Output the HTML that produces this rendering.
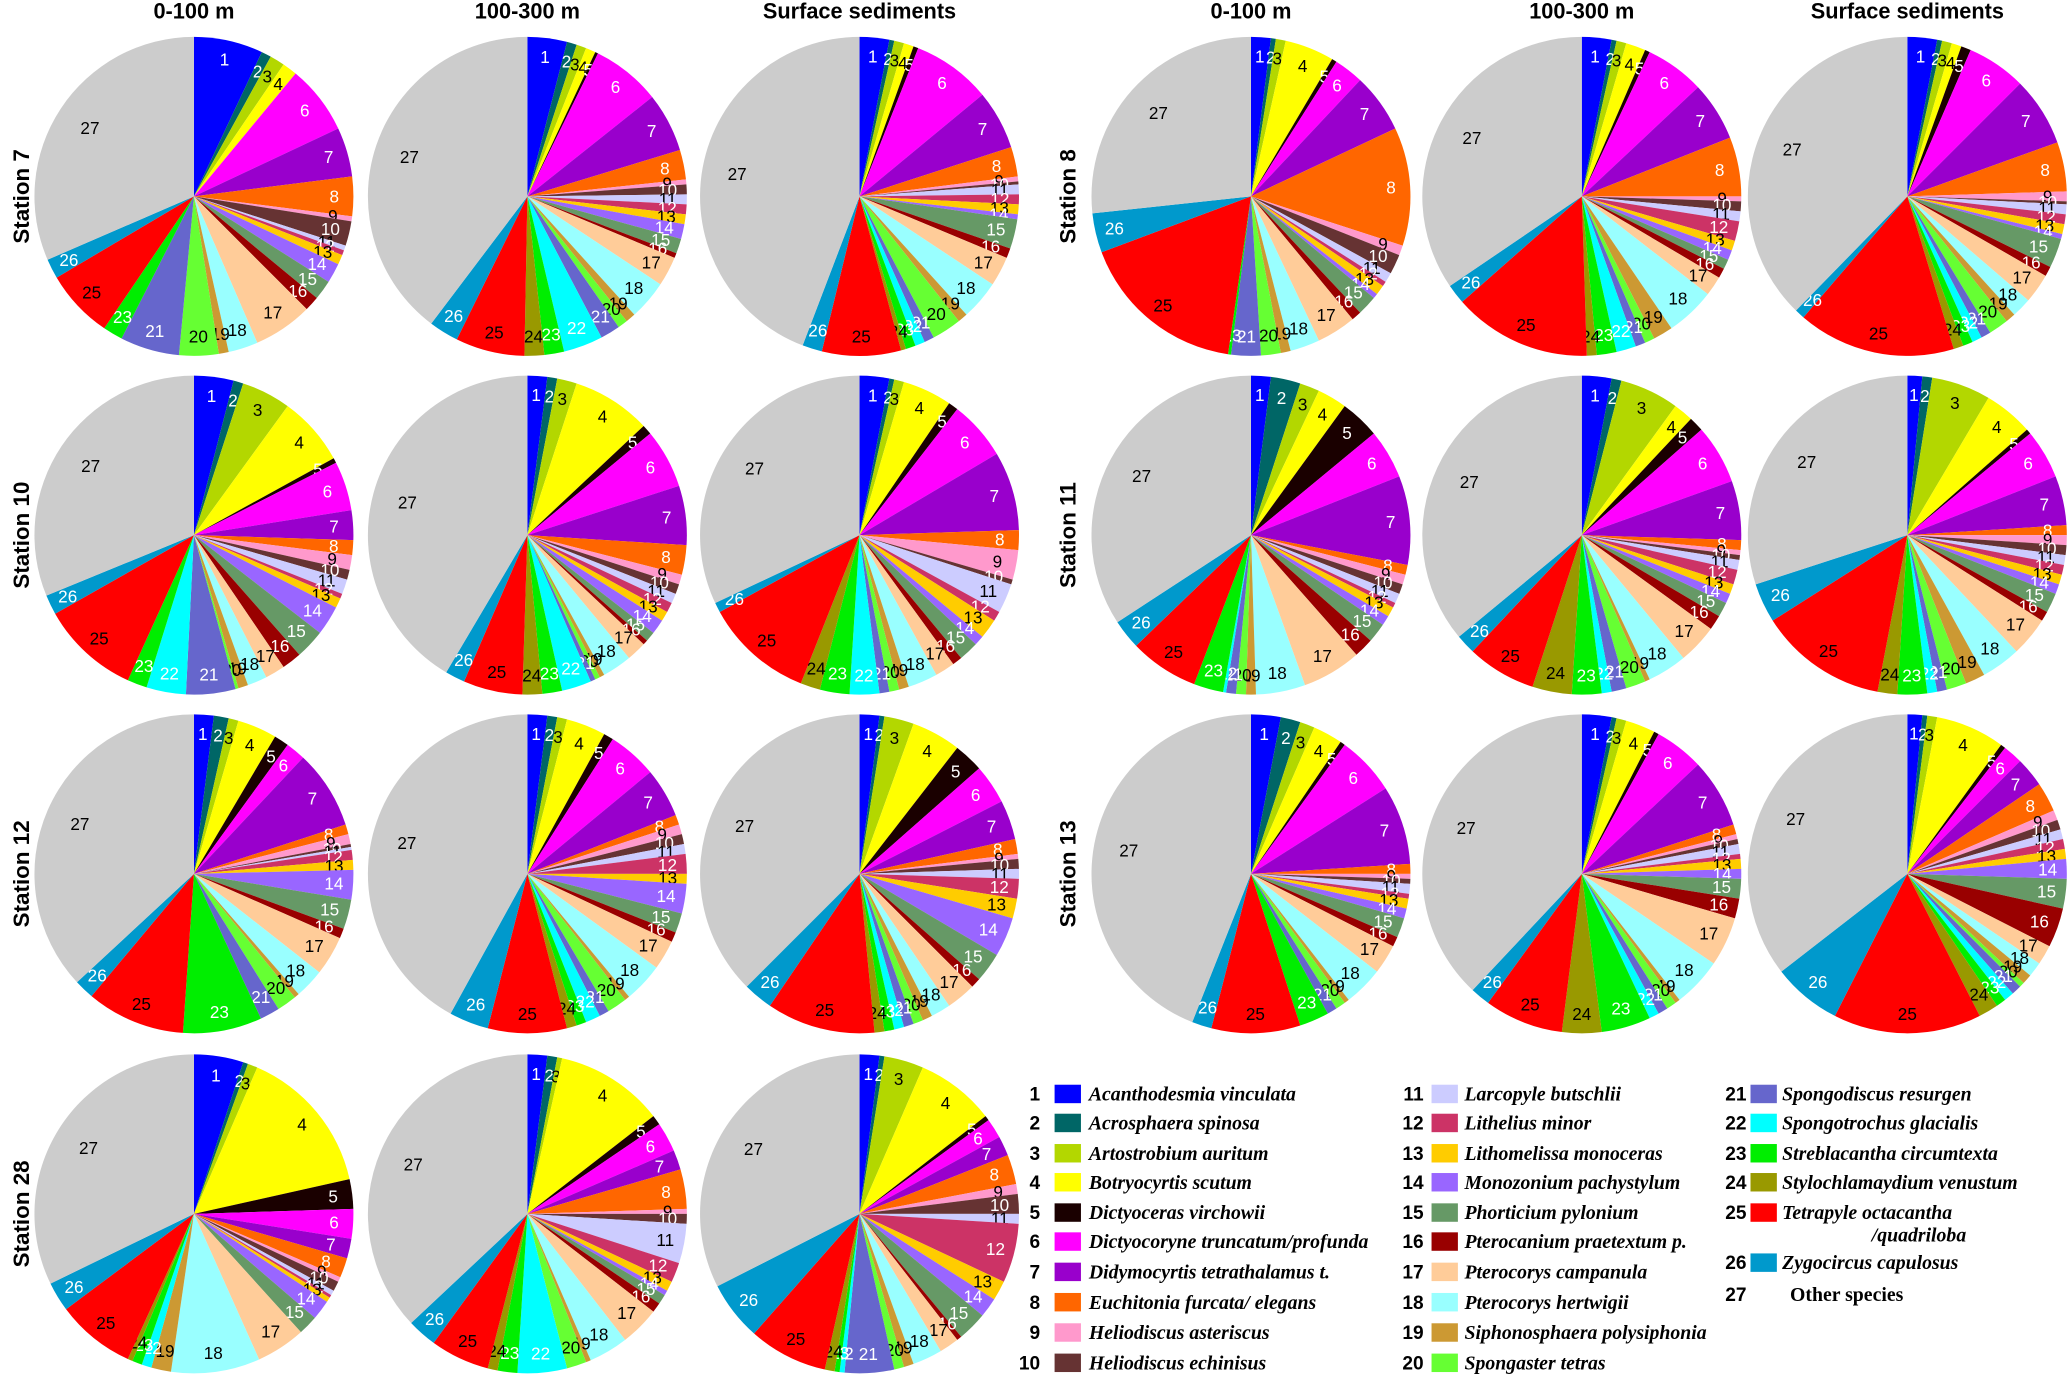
<!DOCTYPE html>
<html><head><meta charset="utf-8">
<style>
html,body{margin:0;padding:0;background:#fff;}
svg{display:block;}
.hdr{font-family:"Liberation Sans",sans-serif;font-weight:bold;font-size:16.5px;text-anchor:middle;}
.st{font-family:"Liberation Sans",sans-serif;font-weight:bold;font-size:17px;text-anchor:middle;}
.lbl{font-family:"Liberation Sans",sans-serif;font-size:13px;text-anchor:middle;dominant-baseline:central;}
.lnum{font-family:"Liberation Sans",sans-serif;font-size:14.5px;font-weight:bold;}
.ltxt{font-family:"Liberation Serif",serif;font-style:italic;font-weight:bold;font-size:15px;}
</style></head>
<body>
<svg id="chart" width="2067" height="1376" viewBox="0 0 1568 1044" xmlns="http://www.w3.org/2000/svg"></svg>
<script>
const speciesNames = ["Acanthodesmia vinculata","Acrosphaera spinosa","Artostrobium auritum","Botryocyrtis scutum","Dictyoceras virchowii","Dictyocoryne truncatum/profunda","Didymocyrtis  tetrathalamus t.","Euchitonia furcata/ elegans","Heliodiscus asteriscus","Heliodiscus echinisus","Larcopyle butschlii","Lithelius minor","Lithomelissa monoceras","Monozonium pachystylum","Phorticium pylonium","Pterocanium praetextum p.","Pterocorys campanula","Pterocorys hertwigii","Siphonosphaera polysiphonia","Spongaster tetras","Spongodiscus resurgen","Spongotrochus glacialis","Streblacantha circumtexta","Stylochlamaydium venustum","Tetrapyle octacantha","Zygocircus capulosus","Other species"];
const colors = ["#0000ff","#006666","#b3d700","#ffff00","#1a0000","#ff00ff","#9900cc","#ff6600","#ff99cc","#663333","#ccccff","#cc3366","#ffcc00","#9966ff","#669966","#990000","#ffcc99","#99ffff","#cc9933","#66ff33","#6666cc","#00ffff","#00ee00","#999900","#ff0000","#0099cc","#cccccc"];
const whiteLabels = [1,2,5,6,7,8,10,12,14,15,16,21,22,23,26];
const depths = ["0-100 m","100-300 m","Surface sediments"];
const s7a=[7,1,1.5,1.5,0,7,5,4,0.5,2.5,0.5,0.5,1,2,2,1.5,6,3,1,4,6,0,2,0,7,2,31.5];
const s7b=[4,1,1,1,0.3,7,6,3,0.5,1,1,1,1,1.5,1.5,0.5,3,4,1,1,2,4,2,2,7,3,39.7];
const s7c=[3,0.5,1,1,0.5,8,6,3,0.5,0.3,1,1,1,0.5,3,1,3,4,1,3,1,1,1,0.5,8,2,44.2];
const s10a=[4,1,5,7,0.5,5,3,1.5,1.5,1,1.5,0.5,1,3,3,2,2,2,1,0.3,5,4,2,0,10,2,31.2];
const s10b=[2,1,2,8,1,6,6,3,1,1,1,1,1,1.5,1,0.5,2,3,0.5,0.5,0.5,3,2,2,6,2,41.5];
const s10c=[3,0.5,1,5,1,6,8,2,3,0.5,3,1,2,1,2,1,2,3,1,1,1,3,3,2,11,1,32];
const s12a=[2,1.5,1,4,1.5,2,8,1,1,0.3,0.3,1,1,3,3,1,4,3,0.5,2,2,0,8,0,10,2,36.9];
const s12b=[2,1,1,4,1,5,5,1,1,1,1,2,1,3,2,1,3,4,0.5,2,1,1.5,1,1,8,4,42];
const s12c=[2,0.5,3,5,3,4,4,1.5,0.5,1,1,2,2,4,3,1,3,2,1,1,1,1,1,1,11,3,37.5];
const s28a=[5,0.5,1,15,3,3,2,2,0.5,1,0.5,0.3,0.5,2,2,0,5,9,2,0,0,1,1,0.5,8,3,32.2];
const s28b=[2,1,0.5,11,1,3,2,4,0.5,1,4,2,1,0.5,1,1,4,4,0.5,2,0,5,2,1,6,3,37];
const s28c=[2,0.5,4,8,0.5,2,2,3,1,2,1,6,2,2,3,0.5,2,3,1,1,5,0.5,0.5,1,8,6,32.5];
const s8a=[2,0.5,1,5,0.5,3,6,12,1,2,1,0.5,1,0.5,2,1,4,3,1,2,3,0,0.3,0,17,4,26.7];
const s8b=[3,0.5,1,2,0.5,6,6,6,0.5,1,1,2,1,1,1,1,2,5,2,1,1,2,2,1,14,2,34.5];
const s8c=[3,0.5,1,1,1,6,7,5,1,0.3,1,1,1,0.5,3,1,3,2,1,2,1,1,1,1,16,1,37.7];
const s11a=[2,3,2,3,4,5,9,1,1,1,1,0.5,1,1,2,2,6,5,1,1,1,0.3,3,0,7,3,34.2];
const s11b=[3,1,6,2,1.5,6,6,1,0.5,0.5,1,1.5,1,1,1.5,1.5,4,4,0.5,2,1.5,1,3,4,7,2,36];
const s11c=[1.5,1,6,5,0.5,5,5,1,1,1,1,1,1,1,2,1,4,4,2,2,1,1,3,2,13,4,30];
const s13a=[3,2,1.5,3,0.5,6,8,1,0.5,0.5,1,0.5,1,1,2,1,3,4,0.5,1,1,0,3,0,9,2,44];
const s13b=[3,0.5,1,3,0.5,5,7,1,0.5,0.5,1,0.5,1,1,2,2,5,5,0.5,1,1,1,5,4,8,2,38];
const s13c=[1.5,0.5,1,7,0.5,2,3,3,1,1,1,1,1,2,3,4,2,1.5,1,0.5,1,1,1,2,15,7,35.5];

const pies=[
 {id:"station-7",d:[s7a,s7b,s7c],g:0,r:0},{id:"station-10",d:[s10a,s10b,s10c],g:0,r:1},
 {id:"station-12",d:[s12a,s12b,s12c],g:0,r:2},{id:"station-28",d:[s28a,s28b,s28c],g:0,r:3},
 {id:"station-8",d:[s8a,s8b,s8c],g:1,r:0},{id:"station-11",d:[s11a,s11b,s11c],g:1,r:1},
 {id:"station-13",d:[s13a,s13b,s13c],g:1,r:2}];
const NS="http://www.w3.org/2000/svg";
const svg=document.getElementById('chart');
function mk(tag,attrs,parent){const e=document.createElementNS(NS,tag);for(const k in attrs)e.setAttribute(k,attrs[k]);(parent||svg).appendChild(e);return e;}
const colX=[[147,400,652],[949,1200,1447]];
const rowY=[149,406,663,921];
const R=121;
for(let g=0;g<2;g++)for(let c=0;c<3;c++){
  const t=mk('text',{class:'hdr',x:colX[g][c],y:14});
  
  
  t.textContent=depths[c];
}
const stMap={"station-7":"Station 7","station-10":"Station 10","station-12":"Station 12","station-28":"Station 28","station-8":"Station 8","station-11":"Station 11","station-13":"Station 13"};
function pt(cx,cy,r,a){return [cx+r*Math.sin(a),cy-r*Math.cos(a)];}
pies.forEach(p=>{
  const cy=rowY[p.r];
  const sx=p.g===0?16:810;
  const st=mk('text',{class:'st',x:sx,y:cy,transform:`rotate(-90 ${sx} ${cy})`,'dominant-baseline':'central'});
  
  
  st.textContent=stMap[p.id];
  p.d.forEach((vals,c)=>{
    const cx=colX[p.g][c];
    const grp=mk('g',{});
    
    
    const tot=vals.reduce((a,b)=>a+b,0);
    let acc=0;
    vals.forEach((v,i)=>{
      if(v<=0){return;}
      const a0=acc/tot*2*Math.PI, a1=(acc+v)/tot*2*Math.PI; acc+=v;
      const [x0,y0]=pt(cx,cy,R,a0),[x1,y1]=pt(cx,cy,R,a1);
      const large=(a1-a0)>Math.PI?1:0;
      const path=mk('path',{d:`M${cx},${cy}L${x0},${y0}A${R},${R} 0 ${large} 1 ${x1},${y1}Z`,fill:colors[i]},grp);
      
      
      const am=(a0+a1)/2;
      const lr=i===26?R*0.78:R*0.88;
      const [lx,ly]=pt(cx,cy,lr,am);
      const t=mk('text',{class:'lbl',x:lx,y:ly,fill:whiteLabels.includes(i+1)?'#fff':'#000'},grp);
      
      
      t.textContent=String(i+1);
    });
  });
});
const legCols=[{n:789,s:800,t:826},{n:1080,s:1086,t:1111},{n:1325,s:1328,t:1352}];
const legY=[830,852,875,897,920,942,965,988,1011,1034];
const legY3=[830,852,875,897,920,958,982];
for(let i=0;i<27;i++){
  const col=i<10?0:(i<20?1:2);
  const idx=i<10?i:(i<20?i-10:i-20);
  const y=col===2?legY3[idx]:legY[idx];
  const L=legCols[col];
  const g=mk('g',{});
  
  
  const n=mk('text',{class:'lnum',x:L.n,y:y+5,'text-anchor':'end'},g);
  n.textContent=String(i+1);
  if(i<26){mk('rect',{x:L.s,y:y-7,width:20,height:14,fill:colors[i]},g);}
  const t=mk('text',{class:'ltxt',x:i<26?L.t:L.t+6,y:y+5},g);
  if(i===26){t.style.fontStyle='normal';}
  if(i===24){
    t.textContent='Tetrapyle octacantha';
    const t2=mk('text',{class:'ltxt',x:L.t+68,y:y+22},g);
    t2.textContent='/quadriloba';
  } else t.textContent=speciesNames[i];
}
</script>
</body></html>
